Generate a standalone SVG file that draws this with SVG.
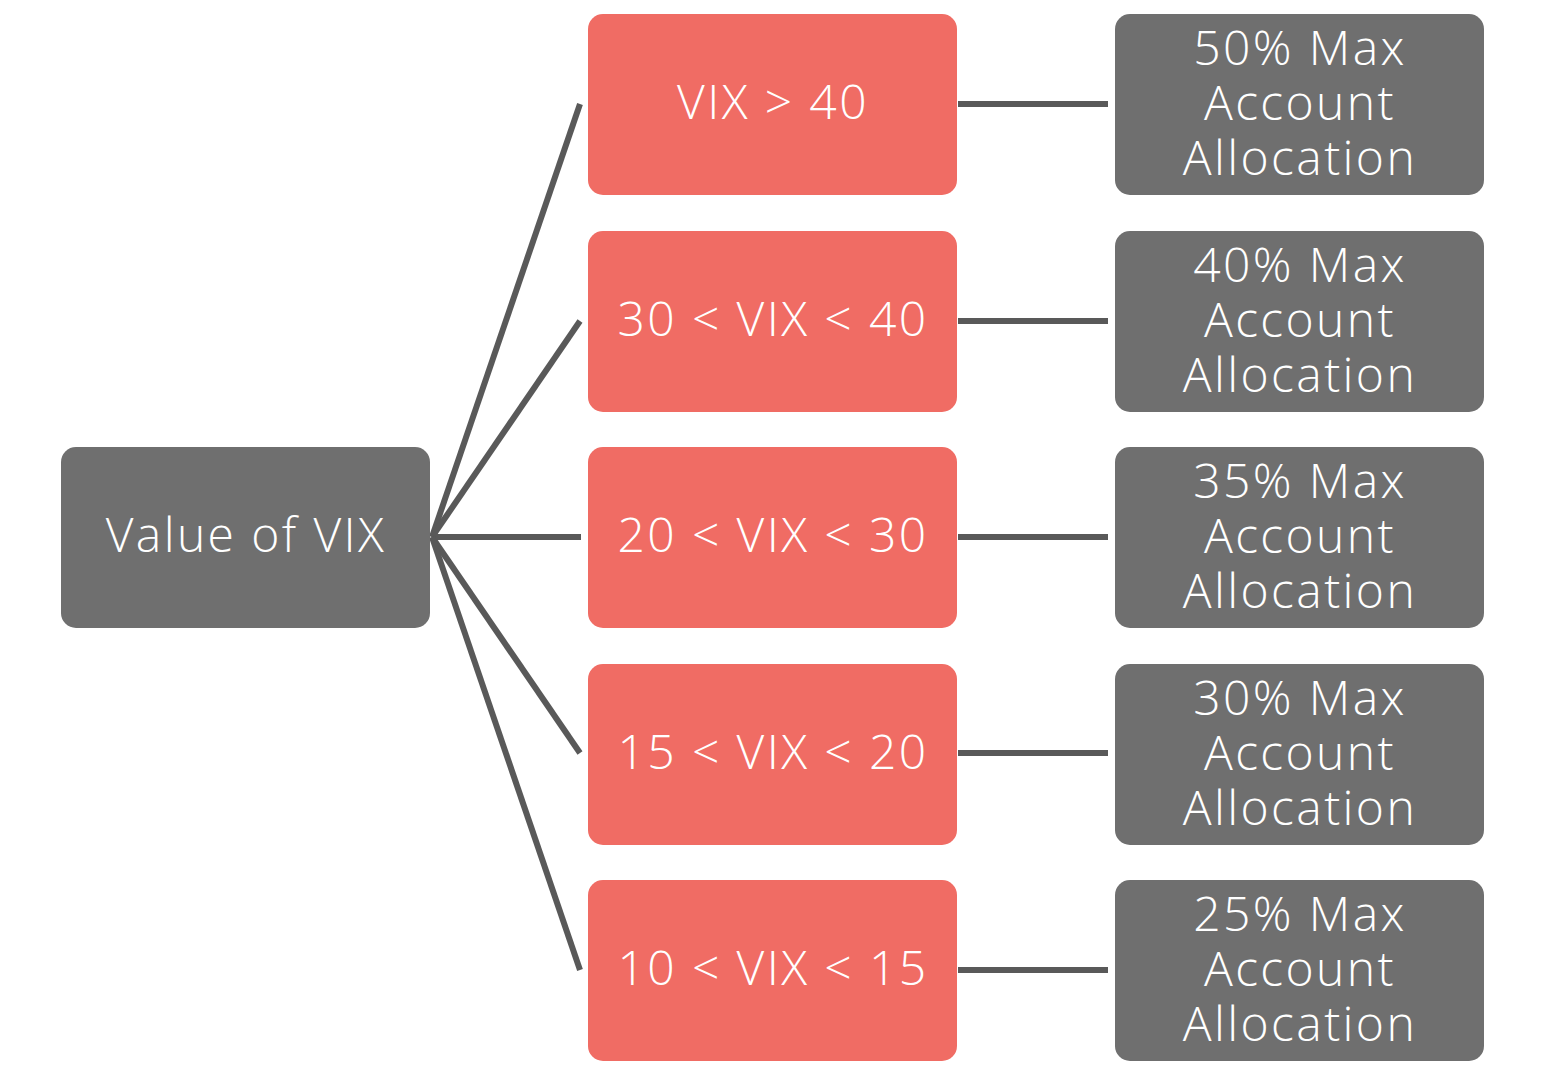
<svg xmlns="http://www.w3.org/2000/svg" width="1544" height="1084" viewBox="0 0 1544 1084">
<style>
.g{fill:#6f6f6f}
.r{fill:#f06c64}
.t{fill:#ffffff;font-family:"Open Sans","Noto Sans","Liberation Sans",sans-serif;font-weight:300;font-size:48px;text-anchor:middle;font-variant-ligatures:none;letter-spacing:2.4px}
.c line{stroke:#595959;stroke-width:6}
</style>
<rect width="1544" height="1084" fill="#ffffff"/>
<g class="c" id="connectors">
<line x1="432" y1="537" x2="580" y2="104"/>
<line x1="432" y1="537" x2="580" y2="321"/>
<line x1="432" y1="537" x2="581" y2="537"/>
<line x1="432" y1="537" x2="580" y2="753"/>
<line x1="432" y1="537" x2="580" y2="970"/>
<line x1="958" y1="104" x2="1108" y2="104"/>
<line x1="958" y1="321" x2="1108" y2="321"/>
<line x1="958" y1="537" x2="1108" y2="537"/>
<line x1="958" y1="753" x2="1108" y2="753"/>
<line x1="958" y1="970" x2="1108" y2="970"/>
</g>
<g id="root"><rect class="g" x="61" y="447" width="369" height="181" rx="15"/><text class="t" x="246" y="552">Value of VIX</text></g>
<g id="r1"><rect class="r" x="588" y="14" width="369" height="181" rx="15"/><text class="t" x="773" y="119">VIX &gt; 40</text></g>
<g id="r2"><rect class="r" x="588" y="231" width="369" height="181" rx="15"/><text class="t" x="773" y="336">30 &lt; VIX &lt; 40</text></g>
<g id="r3"><rect class="r" x="588" y="447" width="369" height="181" rx="15"/><text class="t" x="773" y="552">20 &lt; VIX &lt; 30</text></g>
<g id="r4"><rect class="r" x="588" y="664" width="369" height="181" rx="15"/><text class="t" x="773" y="769">15 &lt; VIX &lt; 20</text></g>
<g id="r5"><rect class="r" x="588" y="880" width="369" height="181" rx="15"/><text class="t" x="773" y="985">10 &lt; VIX &lt; 15</text></g>
<g id="a1"><rect class="g" x="1115" y="14" width="369" height="181" rx="15"/><text class="t" x="1300" y="65">50% Max</text><text class="t" x="1300" y="120">Account</text><text class="t" x="1300" y="175">Allocation</text></g>
<g id="a2"><rect class="g" x="1115" y="231" width="369" height="181" rx="15"/><text class="t" x="1300" y="282">40% Max</text><text class="t" x="1300" y="337">Account</text><text class="t" x="1300" y="392">Allocation</text></g>
<g id="a3"><rect class="g" x="1115" y="447" width="369" height="181" rx="15"/><text class="t" x="1300" y="498">35% Max</text><text class="t" x="1300" y="553">Account</text><text class="t" x="1300" y="608">Allocation</text></g>
<g id="a4"><rect class="g" x="1115" y="664" width="369" height="181" rx="15"/><text class="t" x="1300" y="715">30% Max</text><text class="t" x="1300" y="770">Account</text><text class="t" x="1300" y="825">Allocation</text></g>
<g id="a5"><rect class="g" x="1115" y="880" width="369" height="181" rx="15"/><text class="t" x="1300" y="931">25% Max</text><text class="t" x="1300" y="986">Account</text><text class="t" x="1300" y="1041">Allocation</text></g>
</svg>
